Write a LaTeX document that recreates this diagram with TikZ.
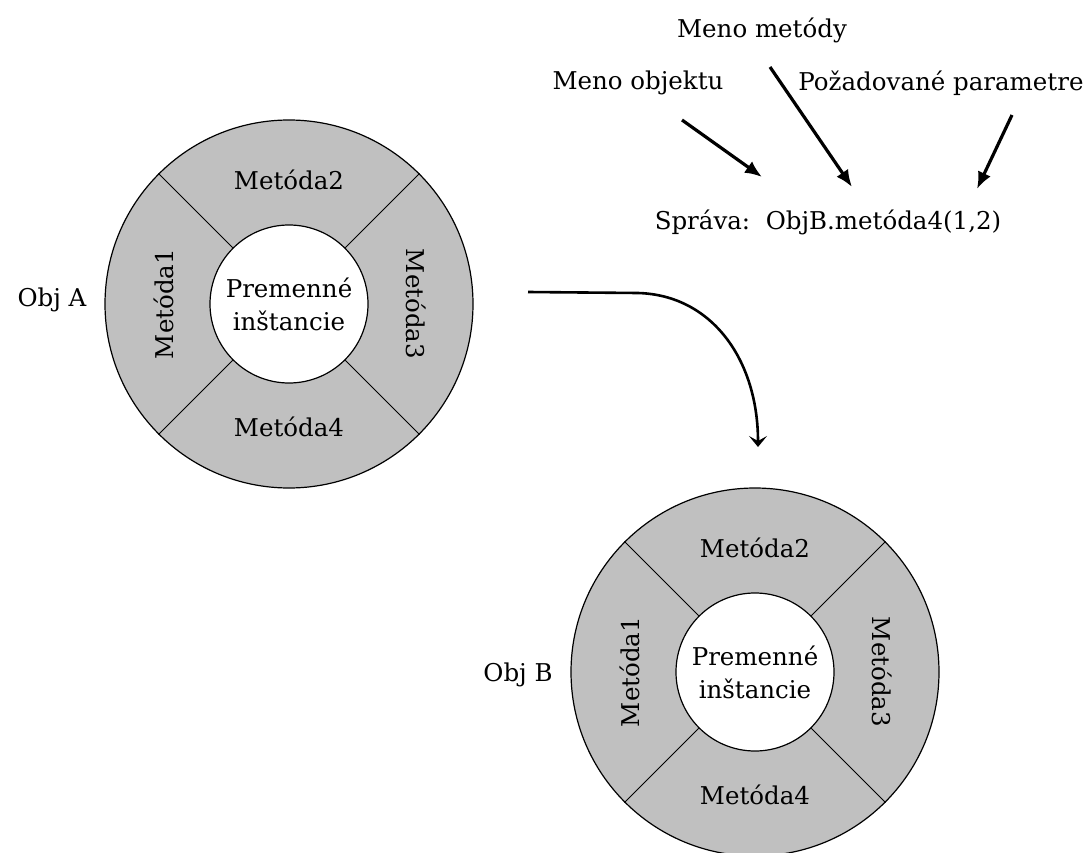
\documentclass[tikz,border=0pt]{standalone}
\usepackage{fontspec}
\setmainfont{DejaVu Serif}
\usepackage{tikz}
\usetikzlibrary{arrows.meta}
\definecolor{ringgray}{RGB}{192,192,192}

\begin{document}
\begin{tikzpicture}[x=1pt, y=-1pt,
        font=\fontsize{24.5}{33}\selectfont,
        ring/.style={circle, draw, line width=1.2pt, fill=ringgray, minimum size=368pt, inner sep=0pt},
        core/.style={circle, draw, line width=1.2pt, fill=white, minimum size=158pt, inner sep=0pt, align=center},
        hint/.style={line width=3.2pt, -{Latex[length=17pt,width=14pt]}},
        msg/.style={line width=2.6pt, -{Stealth[length=11pt,width=18pt,inset=5pt]}}]
    \useasboundingbox (0,0) rectangle (1084,853);

    % Obj A
    \node[ring] (objA) at (289,304) {};
    \node[core] (varsA) at (objA) {Premenné\\inštancie};
    \foreach \a in {45,135,225,315}
        \draw[line width=1pt] (varsA.\a) -- (objA.\a);
    \node (mA2) at ([yshift=124pt]objA.center) {Metóda2};
    \node (mA4) at ([yshift=-123pt]objA.center) {Metóda4};
    \node[rotate=90] (mA1) at ([xshift=-125pt]objA.center) {Metóda1};
    \node[rotate=-90] (mA3) at ([xshift=127pt]objA.center) {Metóda3};
    \node (labelA) at (52,300) {Obj A};

    % Obj B
    \node[ring] (objB) at (755,672) {};
    \node[core] (varsB) at (objB) {Premenné\\inštancie};
    \foreach \a in {45,135,225,315}
        \draw[line width=1pt] (varsB.\a) -- (objB.\a);
    \node (mB2) at ([yshift=124pt]objB.center) {Metóda2};
    \node (mB4) at ([yshift=-123pt]objB.center) {Metóda4};
    \node[rotate=90] (mB1) at ([xshift=-125pt]objB.center) {Metóda1};
    \node[rotate=-90] (mB3) at ([xshift=127pt]objB.center) {Metóda3};
    \node (labelB) at (518,675) {Obj B};

    % sprava
    \node (methodname) at (762,30) {Meno metódy};
    \node (objname) at (638,83) {Meno objektu};
    \node (params) at (941,83) {Požadované parametre};
    \node (message) at (828,222) {Správa:\ \ ObjB.metóda4(1,2)};

    \coordinate (objtail) at (682,120);
    \coordinate (objtip) at (762,177);
    \coordinate (methodtail) at (770,67);
    \coordinate (methodtip) at (852,187);
    \coordinate (paramtail) at (1012,115);
    \coordinate (paramtip) at (977,189);
    \draw[hint] (objtail) -- (objtip);
    \draw[hint] (methodtail) -- (methodtip);
    \draw[hint] (paramtail) -- (paramtip);

    % A -> B
    \coordinate (callstart) at (528,292);
    \coordinate (callbend) at (638,293);
    \coordinate (callend) at (758,447);
    \draw[msg] (callstart) -- (callbend) .. controls (712,295) and (758,360) .. (callend);
\end{tikzpicture}
\end{document}
